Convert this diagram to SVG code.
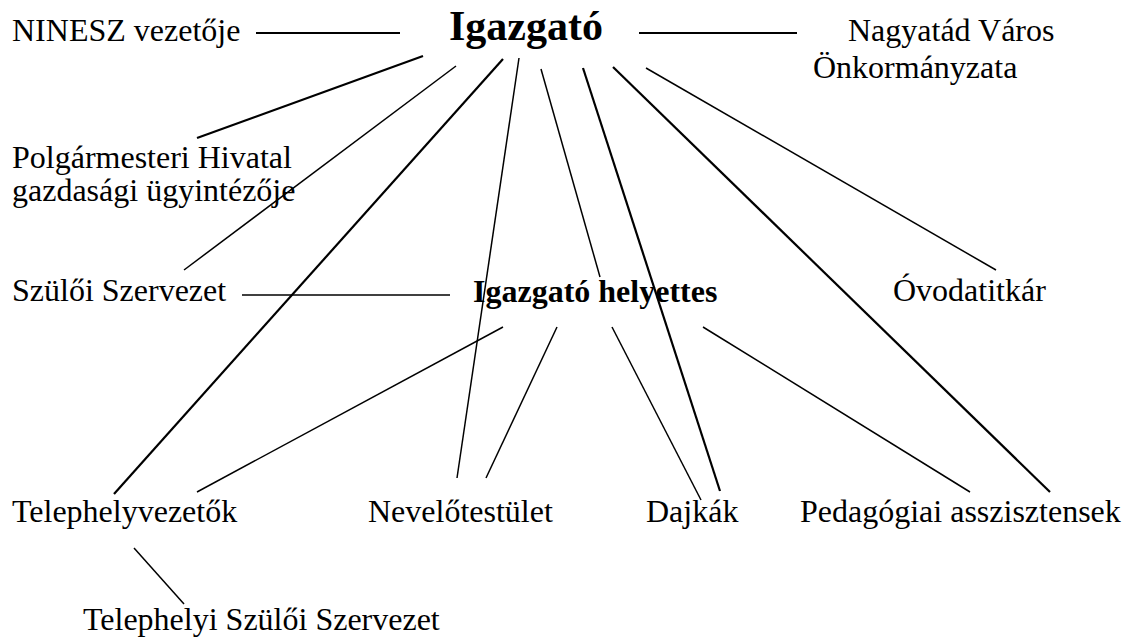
<svg xmlns="http://www.w3.org/2000/svg" width="1130" height="640" viewBox="0 0 1130 640">
<style>
.t{font-family:"Liberation Serif","Times New Roman",serif;font-size:32px;fill:#000}
.b{font-weight:bold}
.c line{stroke:#000;stroke-width:1.5;stroke-linecap:butt}
.c .h{stroke-width:2.2}
</style>
<rect width="1130" height="640" fill="#fff"/>
<g class="c" id="connectors">
<line class="h" x1="256" y1="33" x2="400" y2="33"/>
<line class="h" x1="639" y1="33" x2="797" y2="33"/>
<line class="h" x1="423" y1="56" x2="197" y2="138"/>
<line x1="456" y1="66" x2="184" y2="270"/>
<line class="h" x1="503" y1="59" x2="114" y2="494"/>
<line x1="519" y1="58" x2="457" y2="478"/>
<line x1="541" y1="69" x2="600" y2="277"/>
<line class="h" x1="583" y1="68" x2="720" y2="491"/>
<line class="h" x1="613" y1="67" x2="1050" y2="492"/>
<line x1="646" y1="68" x2="996" y2="270"/>
<line x1="242" y1="295" x2="450" y2="295"/>
<line x1="503" y1="327" x2="197" y2="492"/>
<line x1="557" y1="327" x2="486" y2="478"/>
<line x1="612" y1="327" x2="701" y2="500"/>
<line x1="703" y1="327" x2="970" y2="492"/>
<line x1="134" y1="548" x2="184" y2="604"/>
</g>
<g id="ninesz"><text class="t" x="12" y="41">NINESZ vezetője</text></g>
<g id="igazgato"><text class="t b" x="449" y="40" style="font-size:42px">Igazgató</text></g>
<g id="nagyatad"><text class="t" x="848" y="41">Nagyatád Város</text><text class="t" x="813" y="78">Önkormányzata</text></g>
<g id="polgarmesteri"><text class="t" x="12" y="168">Polgármesteri Hivatal</text><text class="t" x="12" y="201">gazdasági ügyintézője</text></g>
<g id="szuloi"><text class="t" x="12" y="301">Szülői Szervezet</text></g>
<g id="helyettes"><text class="t b" x="473" y="302">Igazgató helyettes</text></g>
<g id="ovodatitkar"><text class="t" x="893" y="301">Óvodatitkár</text></g>
<g id="telephelyvezetok"><text class="t" x="12" y="522">Telephelyvezetők</text></g>
<g id="nevelotestulet"><text class="t" x="368" y="522">Nevelőtestület</text></g>
<g id="dajkak"><text class="t" x="646" y="522">Dajkák</text></g>
<g id="pedagogiai"><text class="t" x="800" y="522">Pedagógiai asszisztensek</text></g>
<g id="telephelyi"><text class="t" x="83" y="630">Telephelyi Szülői Szervezet</text></g>
</svg>
